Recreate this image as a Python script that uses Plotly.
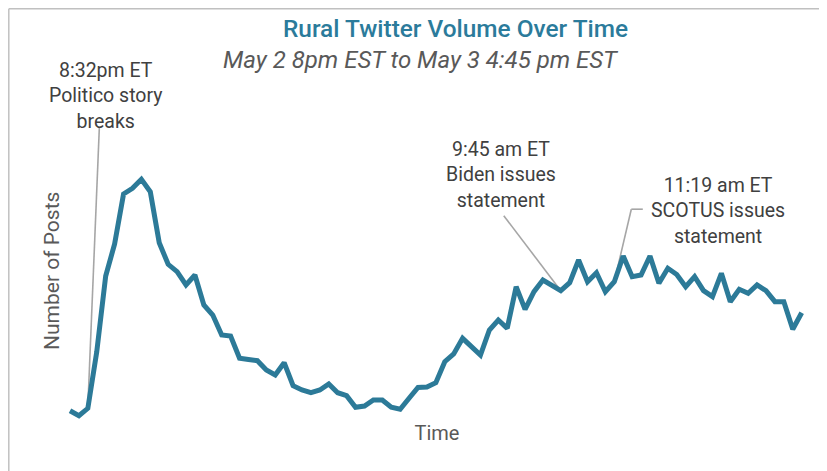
import plotly.graph_objects as go
import pandas as pd

# ---- data (arbitrary units, no axis ticks shown) ----
start_time = "2022-05-02 20:00"
step = "15min"
posts = [19.3, 14.3, 21.7, 78.3, 154, 186, 236, 241.7, 250.7, 238.3,
         187.3, 165.7, 158.3, 145, 155, 125, 115, 95, 94, 71.7,
         70.5, 69.3, 60, 55, 67.3, 44.3, 40, 37.3, 40, 46,
         37.3, 34.3, 22.7, 24, 30, 30, 22.7, 20.7, 31.7, 42.5,
         43, 47.3, 68.3, 76, 91.7, 83.3, 75, 100, 110, 101.7,
         143.3, 120.7, 138.3, 150, 144.5, 139.3, 147.3, 170, 148.3, 157.3,
         138.3, 148.3, 174, 153.3, 155, 174, 146.7, 161.7, 155.5, 143.3,
         153.3, 139.3, 133.3, 156.7, 128.3, 140.7, 136.7, 145, 139.3, 128.3,
         128.3, 100.7, 117.3]
times = pd.date_range(start_time, periods=len(posts), freq=step)

event_index = [2, 55, 61]
event_labels = ["8:32pm ET<br>Politico story<br>breaks",
                "9:45 am ET<br>Biden issues<br>statement",
                "11:19 am ET<br>SCOTUS issues<br>statement"]

title_text = "Rural Twitter Volume Over Time"
subtitle_text = "May 2 8pm EST to May 3 4:45 pm EST"
x_title = "Time"
y_title = "Number of Posts"

# ---- layout geometry (targets given in page pixels; page body has 8px margin) ----
OFF = 8
W, H = 827 - OFF, 471 - OFF
P_LEFT, P_RIGHT, P_TOP, P_BOTTOM = 62, 812, 60, 420   # plot area in page px
ML, MR = P_LEFT - OFF, W - (P_RIGHT - OFF)
MT, MB = P_TOP - OFF, H - (P_BOTTOM - OFF)
PW, PH = P_RIGHT - P_LEFT, P_BOTTOM - P_TOP
px_per_step = 8.923
x0 = times[0] - pd.Timedelta(minutes=15 * (70 - P_LEFT) / px_per_step)
x1 = x0 + pd.Timedelta(minutes=15 * PW / px_per_step)
y_lo = 430 - P_BOTTOM
y_hi = 430 - P_TOP


def px(x):
    return (x - P_LEFT) / PW


def py(y):
    return (P_BOTTOM - y) / PH


LINE = "#2C7A98"
GREY_TXT = "#404040"
AXIS_TXT = "#595959"
LEADER = "#A6A6A6"
FONT = "Roboto"

fig = go.Figure()
fig.add_trace(go.Scatter(x=times, y=posts, mode="lines",
                         line=dict(color=LINE, width=5), hoverinfo="skip",
                         showlegend=False))

# leader lines (pixel offsets from the data points)
leaders = [
    (event_index[0], [(0, 1.5, 11.5, 281)]),
    (event_index[1], [(0, 0, -57, 75)]),
    (event_index[2], [(0, 0, 17, 72.5), (17, 72.5, 28.5, 72.5)]),
]
for idx, segs in leaders:
    for (a0, b0, a1, b1) in segs:
        fig.add_shape(type="line", xref="x", yref="y",
                      xsizemode="pixel", ysizemode="pixel",
                      xanchor=times[idx], yanchor=posts[idx],
                      x0=a0, y0=b0, x1=a1, y1=b1,
                      line=dict(color=LEADER, width=1.6), layer="below")

label_pos = [(105, 96), (501, 175), (718, 211)]
for (lx, ly), txt in zip(label_pos, event_labels):
    fig.add_annotation(text=txt, xref="paper", yref="paper",
                       x=px(lx), y=py(ly), xanchor="center", yanchor="middle",
                       showarrow=False, align="center",
                       font=dict(family=FONT, size=19.5, color=GREY_TXT))

fig.add_annotation(text=subtitle_text, xref="paper", yref="paper",
                   x=px(421), y=py(60), xanchor="center", yanchor="middle",
                   showarrow=False,
                   font=dict(family=FONT, size=24, color=AXIS_TXT,
                             style="italic"))

fig.add_annotation(text=title_text, xref="paper", yref="paper",
                   x=px(455), y=py(28), xanchor="center", yanchor="middle",
                   showarrow=False,
                   font=dict(family=FONT, size=24.4, color="#2B7B9B",
                             weight=500))

# y-axis title (placed off-centre as in the original)
fig.add_annotation(text=y_title, xref="paper", yref="paper",
                   x=px(52), y=py(271), xanchor="center", yanchor="middle",
                   textangle=-90, showarrow=False,
                   font=dict(family=FONT, size=21, color=AXIS_TXT))

# frame lines (top & left edges of the original card)
fx, fy = px(OFF + 0.8), py(OFF + 0.8)
fig.add_shape(type="line", xref="paper", yref="paper",
              x0=fx, x1=fx, y0=py(520), y1=fy,
              line=dict(color="#C0C0C0", width=1.5), layer="below")
fig.add_shape(type="line", xref="paper", yref="paper",
              x0=fx, x1=px(900), y0=fy, y1=fy,
              line=dict(color="#C0C0C0", width=1.5), layer="below")

fig.update_layout(
    width=W, height=H, autosize=False,
    margin=dict(l=ML, r=MR, t=MT, b=MB),
    paper_bgcolor="white", plot_bgcolor="white",
    xaxis=dict(range=[x0, x1], showgrid=False, zeroline=False,
               showticklabels=False, ticks="", showline=False,
               automargin=False,
               title=dict(text=x_title, standoff=5,
                          font=dict(family=FONT, size=20, color=AXIS_TXT))),
    yaxis=dict(range=[y_lo, y_hi], showgrid=False, zeroline=False,
               showticklabels=False, ticks="", showline=False,
               automargin=False),
)

fig.write_html("out.html")
